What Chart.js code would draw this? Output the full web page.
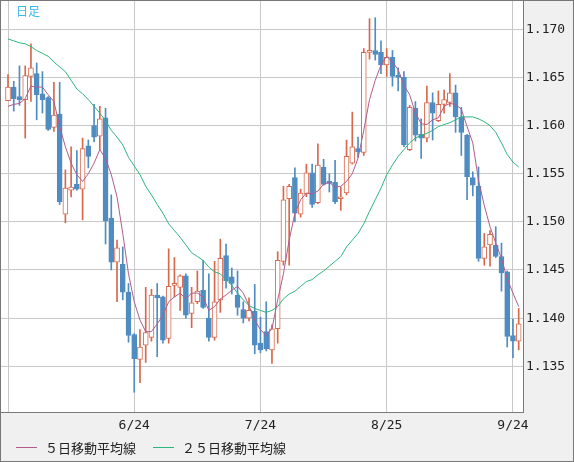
<!DOCTYPE html>
<html>
<head>
<meta charset="utf-8">
<script src="https://cdn.jsdelivr.net/npm/chart.js@4.4.1/dist/chart.umd.min.js"></script>
<style>
  html, body { margin: 0; padding: 0; background: #f0f0f0; }
  canvas { display: block; }
</style>
</head>
<body>
<canvas id="myChart" width="574" height="462"></canvas>
<script>
// daily candles, index 0 = 5/24
const opens = [
  1.1626, 1.1640, 1.1630, 1.1627, 1.1651, 1.1654, 1.1633, 1.1629, 1.1598, 1.1612,
  1.1508, 1.1533, 1.1539, 1.1534, 1.1579, 1.1600, 1.1589, 1.1608, 1.1504, 1.1458,
  1.1456, 1.1427, 1.1383, 1.1357, 1.1372, 1.1380, 1.1424, 1.1422, 1.1379, 1.1434,
  1.1432, 1.1444, 1.1405, 1.1417, 1.1429, 1.1400, 1.1380, 1.1419, 1.1465, 1.1443,
  1.1424, 1.1409, 1.1400, 1.1407, 1.1374, 1.1386, 1.1367, 1.1389, 1.1459, 1.1524,
  1.1546, 1.1508, 1.1529, 1.1551, 1.1520, 1.1557, 1.1542, 1.1541, 1.1524, 1.1530,
  1.1561, 1.1576, 1.1572, 1.1676, 1.1678, 1.1676, 1.1663, 1.1671, 1.1651, 1.1650,
  1.1575, 1.1618, 1.1591, 1.1587, 1.1624, 1.1605, 1.1622, 1.1624, 1.1634, 1.1609,
  1.1590, 1.1546, 1.1537, 1.1462, 1.1476, 1.1476, 1.1464, 1.1448, 1.1382, 1.1376
];
const highs = [
  1.1653, 1.1646, 1.1662, 1.1662, 1.1685, 1.1665, 1.1656, 1.1630, 1.1645, 1.1645,
  1.1554, 1.1578, 1.1574, 1.1587, 1.1585, 1.1622, 1.1620, 1.1618, 1.1528, 1.1481,
  1.1474, 1.1436, 1.1384, 1.1388, 1.1432, 1.1430, 1.1436, 1.1423, 1.1472, 1.1463,
  1.1445, 1.1446, 1.1432, 1.1449, 1.1460, 1.1446, 1.1459, 1.1482, 1.1477, 1.1452,
  1.1449, 1.1417, 1.1421, 1.1435, 1.1401, 1.1417, 1.1393, 1.1469, 1.1537, 1.1539,
  1.1556, 1.1534, 1.1560, 1.1560, 1.1581, 1.1565, 1.1550, 1.1564, 1.1536, 1.1585,
  1.1614, 1.1588, 1.1680, 1.1711, 1.1712, 1.1688, 1.1680, 1.1678, 1.1660, 1.1656,
  1.1621, 1.1625, 1.1607, 1.1641, 1.1634, 1.1636, 1.1637, 1.1654, 1.1642, 1.1619,
  1.1591, 1.1552, 1.1557, 1.1488, 1.1491, 1.1495, 1.1478, 1.1449, 1.1399, 1.1410
];
const lows = [
  1.1626, 1.1615, 1.1621, 1.1587, 1.1625, 1.1606, 1.1613, 1.1595, 1.1594, 1.1518,
  1.1499, 1.1526, 1.1533, 1.1502, 1.1556, 1.1583, 1.1575, 1.1477, 1.1450, 1.1417,
  1.1419, 1.1375, 1.1323, 1.1333, 1.1354, 1.1376, 1.1360, 1.1374, 1.1374, 1.1422,
  1.1408, 1.1400, 1.1390, 1.1415, 1.1410, 1.1376, 1.1377, 1.1406, 1.1431, 1.1425,
  1.1403, 1.1395, 1.1397, 1.1363, 1.1364, 1.1366, 1.1353, 1.1374, 1.1455, 1.1455,
  1.1500, 1.1505, 1.1526, 1.1515, 1.1519, 1.1538, 1.1531, 1.1519, 1.1512, 1.1528,
  1.1560, 1.1567, 1.1569, 1.1669, 1.1668, 1.1654, 1.1651, 1.1641, 1.1636, 1.1578,
  1.1574, 1.1584, 1.1566, 1.1583, 1.1585, 1.1604, 1.1613, 1.1620, 1.1593, 1.1569,
  1.1523, 1.1527, 1.1459, 1.1455, 1.1454, 1.1463, 1.1428, 1.1370, 1.1359, 1.1367
];
const closes = [
  1.1640, 1.1628, 1.1627, 1.1652, 1.1660, 1.1632, 1.1627, 1.1596, 1.1611, 1.1521,
  1.1535, 1.1536, 1.1534, 1.1576, 1.1568, 1.1588, 1.1607, 1.1501, 1.1458, 1.1473,
  1.1427, 1.1382, 1.1358, 1.1370, 1.1385, 1.1424, 1.1421, 1.1377, 1.1433, 1.1435,
  1.1444, 1.1403, 1.1416, 1.1428, 1.1411, 1.1380, 1.1417, 1.1462, 1.1439, 1.1436,
  1.1411, 1.1400, 1.1408, 1.1372, 1.1367, 1.1368, 1.1389, 1.1460, 1.1523, 1.1537,
  1.1509, 1.1530, 1.1551, 1.1518, 1.1559, 1.1539, 1.1540, 1.1521, 1.1526, 1.1568,
  1.1578, 1.1573, 1.1676, 1.1677, 1.1674, 1.1663, 1.1671, 1.1651, 1.1650, 1.1580,
  1.1619, 1.1590, 1.1587, 1.1624, 1.1613, 1.1622, 1.1627, 1.1634, 1.1609, 1.1593,
  1.1547, 1.1538, 1.1462, 1.1474, 1.1487, 1.1464, 1.1447, 1.1381, 1.1376, 1.1394
];
const ma5 = [
  1.1620, 1.1622, 1.1623, 1.1628, 1.1641, 1.1640, 1.1640, 1.1632, 1.1625, 1.1599,
  1.1578, 1.1561, 1.1549, 1.1542, 1.1550, 1.1561, 1.1575, 1.1566, 1.1549, 1.1526,
  1.1488, 1.1446, 1.1417, 1.1398, 1.1386, 1.1386, 1.1394, 1.1403, 1.1417, 1.1422,
  1.1426, 1.1420, 1.1426, 1.1426, 1.1422, 1.1408, 1.1412, 1.1420, 1.1424, 1.1429,
  1.1433, 1.1426, 1.1413, 1.1398, 1.1388, 1.1382, 1.1389, 1.1419, 1.1446, 1.1481,
  1.1509, 1.1523, 1.1530, 1.1529, 1.1532, 1.1539, 1.1541, 1.1536, 1.1537, 1.1542,
  1.1550, 1.1566, 1.1595, 1.1627, 1.1647, 1.1663, 1.1672, 1.1666, 1.1658, 1.1642,
  1.1632, 1.1613, 1.1602, 1.1601, 1.1606, 1.1608, 1.1620, 1.1623, 1.1622, 1.1617,
  1.1599, 1.1582, 1.1543, 1.1517, 1.1495, 1.1478, 1.1462, 1.1441, 1.1426, 1.1412
];
const ma25 = [
  1.1690, 1.1688, 1.1686, 1.1685, 1.1682, 1.1678, 1.1675, 1.1672, 1.1666, 1.1661,
  1.1656, 1.1647, 1.1638, 1.1633, 1.1627, 1.1620, 1.1613, 1.1605, 1.1595, 1.1588,
  1.1580, 1.1567, 1.1558, 1.1549, 1.1537, 1.1528, 1.1518, 1.1509, 1.1498, 1.1491,
  1.1484, 1.1476, 1.1468, 1.1464, 1.1460, 1.1453, 1.1448, 1.1446, 1.1440, 1.1434,
  1.1426, 1.1419, 1.1413, 1.1410, 1.1408, 1.1406, 1.1408, 1.1412, 1.1420, 1.1425,
  1.1428, 1.1433, 1.1438, 1.1440, 1.1445, 1.1449, 1.1454, 1.1459, 1.1464, 1.1474,
  1.1481, 1.1488, 1.1498, 1.1511, 1.1523, 1.1535, 1.1549, 1.1559, 1.1568, 1.1575,
  1.1582, 1.1587, 1.1590, 1.1592, 1.1595, 1.1599, 1.1601, 1.1603, 1.1606, 1.1609,
  1.1609, 1.1609, 1.1607, 1.1604, 1.1600, 1.1593, 1.1582, 1.1570, 1.1562, 1.1557
];

const tickIndex = [0, 22, 44, 66, 88];
const tickLabels = ['', '6/24', '7/24', '8/25', '9/24'];
const priceTicks = [1.135, 1.140, 1.145, 1.150, 1.155, 1.160, 1.165, 1.170];
const legendNames = ['５日移動平均線', '２５日移動平均線'];

const upColor = '#d8684c';
const downColor = '#4f8cc1';
const ma5Color = '#b25c8c';
const ma25Color = '#2eb67d';

const isUp = closes.map((c, i) => c >= opens[i]);

const wicks = lows.map((l, i) => ({ x: i, y: [l, highs[i]] }));
const bodies = opens.map((o, i) => ({ x: i, y: [o, closes[i]] }));
const ma5Points = ma5.map((v, i) => ({ x: i, y: v }));
const ma25Points = ma25.map((v, i) => ({ x: i, y: v }));

const framePlugin = {
  id: 'frame',
  beforeDraw(chart) {
    const { ctx, chartArea: a } = chart;
    ctx.save();
    ctx.fillStyle = '#f0f0f0';
    ctx.fillRect(0, 0, chart.width, chart.height);
    ctx.fillStyle = '#ffffff';
    ctx.fillRect(a.left, a.top, a.right - a.left, a.bottom - a.top);
    ctx.restore();
  },
  afterDraw(chart) {
    const ctx = chart.ctx;
    ctx.save();
    ctx.strokeStyle = '#777777';
    ctx.lineWidth = 1;
    ctx.strokeRect(0.5, 0.5, chart.width - 1, chart.height - 1);

    ctx.fillStyle = '#3cb9ea';
    ctx.font = '12px "Noto Sans CJK JP"';
    ctx.textBaseline = 'middle';
    ctx.fillText('日足', 16, 11);

    // legend
    ctx.font = '13px "Noto Sans CJK JP"';
    ctx.fillStyle = '#222222';
    const items = [
      { name: legendNames[0], color: ma5Color, x: 16 },
      { name: legendNames[1], color: ma25Color, x: 153 }
    ];
    items.forEach(function (it) {
      ctx.strokeStyle = it.color;
      ctx.beginPath();
      ctx.moveTo(it.x, 447.5);
      ctx.lineTo(it.x + 21, 447.5);
      ctx.stroke();
      ctx.fillText(it.name, it.x + 29, 448);
    });
    ctx.restore();
  }
};

Chart.defaults.font.family = '"DejaVu Sans Mono", "Noto Sans CJK JP", monospace';
Chart.defaults.font.size = 13;
Chart.defaults.color = '#222222';

let chartFx = document.getElementById('myChart').getContext('2d');

let fx = new Chart(chartFx, {
  type: 'bar',
  data: {
    datasets: [
      {
        type: 'line',
        data: ma5Points,
        borderColor: ma5Color,
        borderWidth: 1,
        pointRadius: 0,
        tension: 0,
        order: 0
      },
      {
        type: 'line',
        data: ma25Points,
        borderColor: ma25Color,
        borderWidth: 1,
        pointRadius: 0,
        tension: 0,
        order: 1
      },
      {
        data: bodies,
        backgroundColor: isUp.map(u => u ? '#ffffff' : downColor),
        borderColor: isUp.map(u => u ? upColor : downColor),
        borderWidth: 1,
        borderSkipped: false,
        barThickness: 5,
        minBarLength: 2,
        grouped: false,
        order: 2
      },
      {
        data: wicks,
        backgroundColor: isUp.map(u => u ? upColor : downColor),
        borderWidth: 0,
        barThickness: 1,
        grouped: false,
        order: 3
      }
    ]
  },
  options: {
    responsive: false,
    animation: false,
    layout: { padding: { left: 1, top: 1, right: 1, bottom: 25 } },
    plugins: {
      legend: { display: false },
      tooltip: { enabled: false }
    },
    scales: {
      x: {
        type: 'linear',
        offset: false,
        min: -1.22,
        max: 89.75,
        afterBuildTicks: function (s) {
          s.ticks = tickIndex.map(v => ({ value: v }));
        },
        afterFit: function (s) {
          s.height = 25;
          s.paddingLeft = 0;
          s.paddingRight = 0;
        },
        ticks: {
          autoSkip: false,
          maxRotation: 0,
          padding: 6,
          callback: function (v) { return tickLabels[tickIndex.indexOf(v)]; }
        },
        grid: { color: '#c8c8c8', drawTicks: false, offset: false },
        border: { color: '#7a7a7a' }
      },
      y: {
        position: 'right',
        min: 1.13025,
        max: 1.17294,
        afterBuildTicks: function (s) {
          s.ticks = priceTicks.map(v => ({ value: v }));
        },
        afterFit: function (s) {
          s.width = 50;
          s.paddingTop = 0;
          s.paddingBottom = 0;
        },
        ticks: {
          padding: 3,
          callback: function (v) { return v.toFixed(3); }
        },
        grid: { color: '#c8c8c8', drawTicks: false },
        border: { color: '#7a7a7a' }
      }
    }
  },
  plugins: [framePlugin]
});
</script>
</body>
</html>
